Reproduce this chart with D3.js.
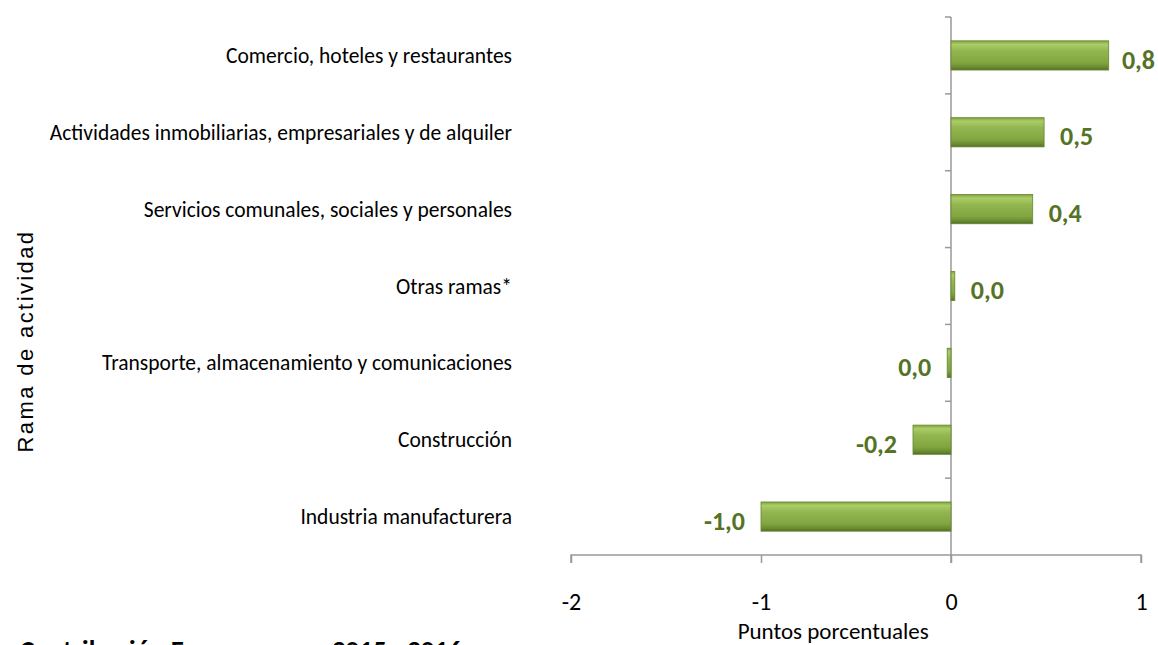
<!DOCTYPE html>
<html>
<head>
<meta charset="utf-8">
<script src="https://cdn.jsdelivr.net/npm/d3@7"></script>
<style>
  body { margin: 0; background: #fff; }
  svg { display: block; }
</style>
</head>
<body>
<div id="chart"></div>
<script>
// Contribución por rama de actividad, puntos porcentuales
const ramas = [
  "Comercio, hoteles y restaurantes",
  "Actividades inmobiliarias, empresariales y de alquiler",
  "Servicios comunales, sociales y personales",
  "Otras ramas*",
  "Transporte, almacenamiento y comunicaciones",
  "Construcción",
  "Industria manufacturera"
];
const valores = [0.83, 0.49, 0.43, 0.02, -0.02, -0.20, -1.0];
const etiquetas = ["0,8", "0,5", "0,4", "0,0", "0,0", "-0,2", "-1,0"];
const xTicks = [-2, -1, 0, 1];

const W = 1158, H = 645;
const margin = { top: 17, right: 17, bottom: 90, left: 571 };
const font = "Carlito, 'Liberation Sans Narrow', 'Open Sans', sans-serif";

const svg = d3.select("#chart").append("svg")
  .attr("width", W)
  .attr("height", H);

const defs = svg.append("defs");
const grad = defs.append("linearGradient")
  .attr("id", "barGrad")
  .attr("x1", 0).attr("y1", 0).attr("x2", 0).attr("y2", 1);
[["0%", "#7fa23d"], ["12%", "#abcd68"], ["35%", "#92b64f"], ["75%", "#82a541"], ["90%", "#6a8c31"], ["100%", "#536f27"]]
  .forEach(([o, c]) => grad.append("stop").attr("offset", o).attr("stop-color", c));

const x = d3.scaleLinear().domain([-2, 1]).range([margin.left, W - margin.right]);
const y = d3.scaleBand().domain(ramas).range([margin.top, H - margin.bottom]).paddingInner(0.62).paddingOuter(0.31);
const axisY = H - margin.bottom;

// horizontal axis
const gx = svg.append("g")
  .attr("transform", `translate(0,${axisY})`)
  .call(d3.axisBottom(x).tickValues(xTicks).tickSize(8).tickFormat(d3.format("d")));
gx.select(".domain").attr("stroke", "#999").attr("stroke-width", 1.5).attr("d", `M${x(-2)},8V0H${x(1)}V8`);
gx.selectAll(".tick line").attr("stroke", "#999").attr("stroke-width", 1.5);
gx.selectAll(".tick text")
  .attr("y", 38)
  .attr("font-family", font)
  .attr("font-size", 24)
  .attr("fill", "#000")
  .text(d => String(d));

// vertical axis at zero with ticks between categories
const x0 = x(0);
svg.append("line")
  .attr("x1", x0).attr("x2", x0)
  .attr("y1", margin.top).attr("y2", axisY + 8)
  .attr("stroke", "#999").attr("stroke-width", 1.5);
const step = (axisY - margin.top) / ramas.length;
const bounds = d3.range(ramas.length).map(i => margin.top + i * step);
svg.selectAll("line.ytick").data(bounds).join("line")
  .attr("class", "ytick")
  .attr("x1", x0 - 6).attr("x2", x0)
  .attr("y1", d => d).attr("y2", d => d)
  .attr("stroke", "#999").attr("stroke-width", 1.5);

// bars
svg.selectAll("rect.bar").data(ramas).join("rect")
  .attr("class", "bar")
  .attr("x", (d, i) => Math.min(x(valores[i]), x0))
  .attr("width", (d, i) => Math.max(Math.abs(x(valores[i]) - x0), 3))
  .attr("y", d => y(d))
  .attr("height", y.bandwidth())
  .attr("fill", "url(#barGrad)")
  .attr("stroke", "#67862f")
  .attr("stroke-width", 0.8);

// category labels
svg.selectAll("text.cat").data(ramas).join("text")
  .attr("class", "cat")
  .attr("x", 512)
  .attr("y", d => y(d) + y.bandwidth() / 2)
  .attr("dy", "0.35em")
  .attr("text-anchor", "end")
  .attr("font-family", font)
  .attr("font-size", 21.5)
  .attr("fill", "#000")
  .text(d => d);

// value labels
const vals = svg.selectAll("text.val").data(ramas).join("text")
  .attr("class", "val")
  .attr("x", (d, i) => valores[i] >= 0 ? x(valores[i]) + 16 : x(valores[i]) - 16)
  .attr("y", d => y(d) + y.bandwidth() / 2 + 4)
  .attr("dy", "0.35em")
  .attr("text-anchor", (d, i) => valores[i] >= 0 ? "start" : "end")
  .attr("font-family", font)
  .attr("font-weight", "bold")
  .attr("font-size", 26)
  .attr("fill", "#557326")
  .text((d, i) => etiquetas[i]);
// keep labels inside the right edge
vals.each(function () {
  const el = d3.select(this);
  const w = this.getComputedTextLength();
  if (el.attr("text-anchor") === "start" && +el.attr("x") + w > W - 3) {
    el.attr("x", W - 3 - w);
  }
});

// axis titles
svg.append("text")
  .attr("x", x(-0.62))
  .attr("y", 639)
  .attr("text-anchor", "middle")
  .attr("font-family", font)
  .attr("font-size", 23)
  .attr("fill", "#000")
  .text("Puntos porcentuales");

svg.append("text")
  .attr("transform", "translate(33,341) rotate(-90)")
  .attr("text-anchor", "middle")
  .attr("font-family", "'Liberation Sans', Arial, sans-serif")
  .attr("font-size", 22)
  .attr("letter-spacing", 2.4)
  .attr("fill", "#000")
  .text("Rama de actividad");

// title cut off at the bottom edge, as in the source
svg.append("text")
  .attr("x", 20)
  .attr("y", 659)
  .attr("font-family", font)
  .attr("font-weight", "bold")
  .attr("font-size", 27)
  .attr("fill", "#000")
  .text("Contribución Enero - marzo 2015 - 2016");
</script>
</body>
</html>
